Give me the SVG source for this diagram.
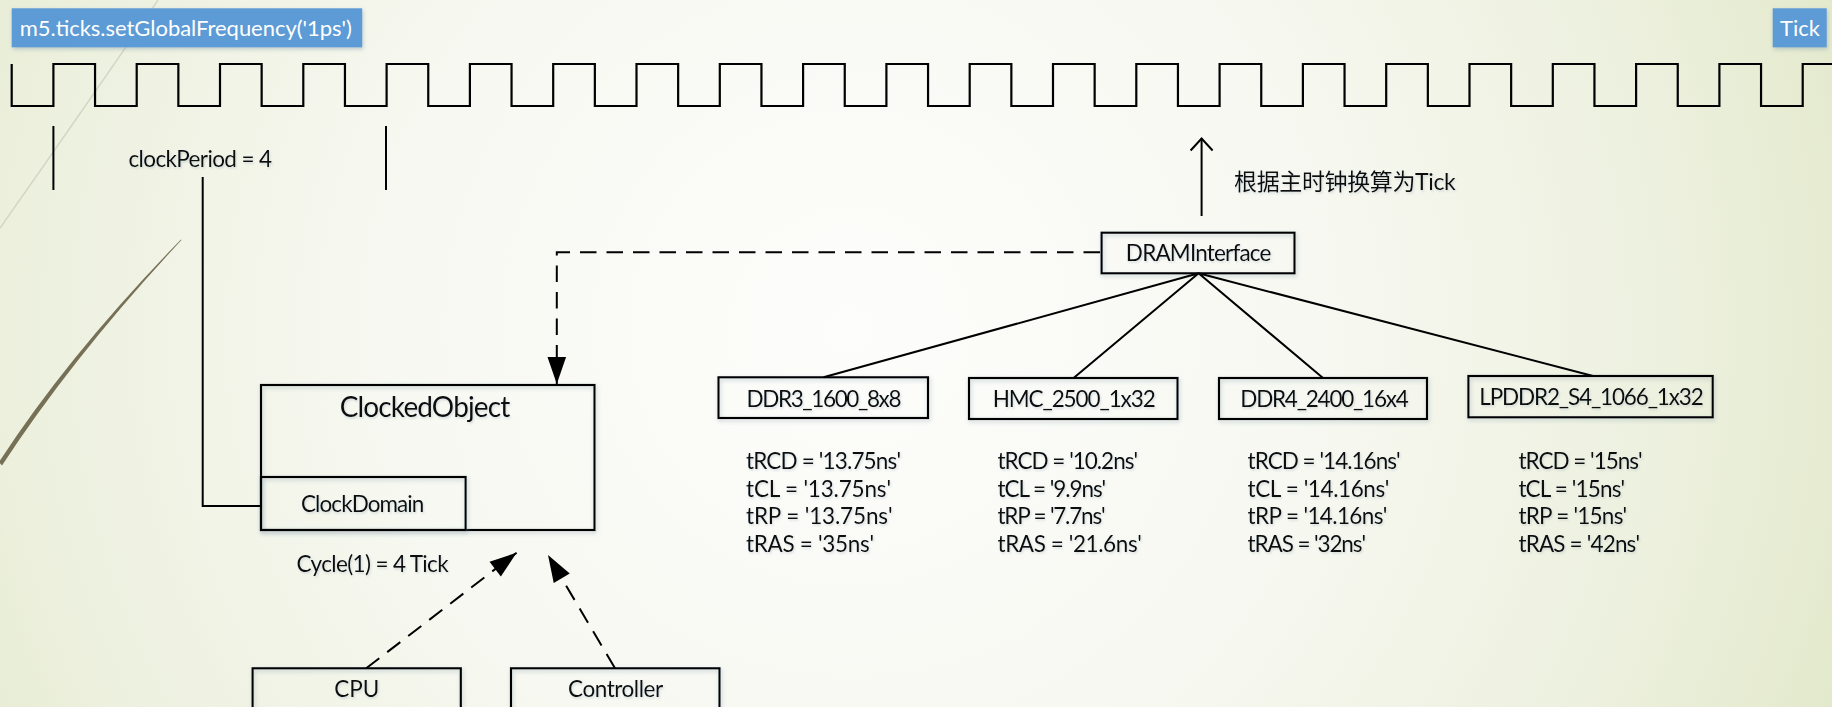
<svg xmlns="http://www.w3.org/2000/svg" width="1832" height="707" viewBox="0 0 1832 707">
  <defs>
    <radialGradient id="bg" cx="850" cy="330" r="1050" gradientUnits="userSpaceOnUse">
      <stop offset="0" stop-color="#fdfdfb"/>
      <stop offset="0.45" stop-color="#f7f8f1"/>
      <stop offset="0.8" stop-color="#ecf0dd"/>
      <stop offset="1" stop-color="#e3e9cc"/>
    </radialGradient>
    <filter id="shadow" x="-10%" y="-20%" width="120%" height="150%">
      <feDropShadow dx="1" dy="2" stdDeviation="2" flood-color="#7f97a8" flood-opacity="0.45"/>
    </filter>
    <filter id="tshadow" x="-5%" y="-20%" width="110%" height="150%">
      <feDropShadow dx="1" dy="1.5" stdDeviation="1.2" flood-color="#8aa0b0" flood-opacity="0.35"/>
    </filter>
    <marker id="filled" markerUnits="userSpaceOnUse" markerWidth="28" markerHeight="20" refX="27" refY="9.3" orient="auto" overflow="visible">
      <path d="M0,0 L27,9.3 L0,18.6 Z" fill="#000"/>
    </marker>
    <marker id="open" markerUnits="userSpaceOnUse" markerWidth="16" markerHeight="26" refX="12" refY="11" orient="auto" overflow="visible">
      <path d="M0,0 L12,11 L0,22" fill="none" stroke="#000" stroke-width="2"/>
    </marker>
  </defs>
  <style>
    .box { fill: none; stroke: #000; stroke-width: 2.2; filter: url(#shadow); }
    .label { fill: #5b9bd5; filter: url(#shadow); }
    .lt { font-family: Lato, "Noto Sans CJK SC", sans-serif; font-size: 22px; fill: #fff; }
    .t { font-family: Lato, "Noto Sans CJK SC", sans-serif; font-size: 22.5px; fill: #0a0a0a; filter: url(#tshadow); }
    .mid { text-anchor: middle; }
    .big { font-size: 28px; }
    .line { fill: none; stroke: #000; stroke-width: 2; }
    .dash { fill: none; stroke: #000; stroke-width: 2; stroke-dasharray: 16.5 10; }
    .wave { fill: none; stroke: #000; stroke-width: 2.2; stroke-linejoin: miter; }
  </style>

  <rect x="0" y="0" width="1832" height="707" fill="url(#bg)"/>
  <!-- background decoration -->
  <path d="M158,0 Q90,100 0,228" fill="none" stroke="#d4d6c6" stroke-width="1.5"/>
  <path d="M181,239.5 Q70,353 -1,462 L2,465.5 Q74,355.5 181.5,240 Z" fill="#767056"/>

  <g id="freq-label">
    <rect class="label" x="11.7" y="8.3" width="350.5" height="39"/>
    <text class="lt" x="19.8" y="36" textLength="332">m5.ticks.setGlobalFrequency('1ps')</text>
  </g>
  <g id="tick-label">
    <rect class="label" x="1772.7" y="8.3" width="54" height="39"/>
    <text class="lt" x="1800" y="36" text-anchor="middle">Tick</text>
  </g>

  <g id="waveform">
    <path class="wave" d="M11.7 64V106H53.4V64H95.05V106H136.7V64H178.35V106H220V64H261.65V106H303.3V64H344.95V106H386.6V64H428.25V106H469.9V64H511.55V106H553.2V64H594.85V106H636.5V64H678.15V106H719.8V64H761.45V106H803.1V64H844.75V106H886.4V64H928.05V106H969.7V64H1011.35V106H1053V64H1094.65V106H1136.3V64H1177.95V106H1219.6V64H1261.25V106H1302.9V64H1344.55V106H1386.2V64H1427.85V106H1469.5V64H1511.15V106H1552.8V64H1594.45V106H1636.1V64H1677.75V106H1719.4V64H1761.05V106H1802.7V64H1832"/>
    <path class="line" d="M53.4 126V190M386 126V190"/>
  </g>

  <g id="clock-period">
    <text class="t" x="128.5" y="167" textLength="143.5">clockPeriod = 4</text>
  </g>

  <g id="clockedobject">
    <rect class="box" x="261" y="385" width="333.5" height="145"/>
    <text class="t big mid" x="425" y="417" textLength="170.5">ClockedObject</text>
  </g>
  <g id="clockdomain">
    <rect class="box" x="261" y="477" width="204.6" height="53"/>
    <text class="t mid" x="362.7" y="512" textLength="123.4">ClockDomain</text>
  </g>
  <g id="cycle-note">
    <text class="t" x="296.6" y="572" textLength="152">Cycle(1) = 4 Tick</text>
  </g>
  <g id="cpu">
    <rect class="box" x="252.6" y="668.3" width="208.2" height="60"/>
    <text class="t mid" x="356.7" y="697">CPU</text>
  </g>
  <g id="controller">
    <rect class="box" x="511" y="668.3" width="208.5" height="60"/>
    <text class="t mid" x="615.6" y="697" textLength="95">Controller</text>
  </g>

  <g id="draminterface">
    <rect class="box" x="1101.6" y="232.7" width="192.9" height="40.6"/>
    <text class="t mid" x="1198.6" y="261" textLength="145.5">DRAMInterface</text>
  </g>
  <g id="tick-note">
    <text class="t" x="1234" y="190" style="font-size:23px" textLength="221.7">根据主时钟换算为Tick</text>
  </g>

  <g id="ddr3">
    <rect class="box" x="718.5" y="377.3" width="209.5" height="40.7"/>
    <text class="t mid" x="824" y="406.5" textLength="155">DDR3_1600_8x8</text>
    <text class="t" x="746" y="469" textLength="155">tRCD = '13.75ns'</text>
    <text class="t" x="746" y="496.5" textLength="145">tCL = '13.75ns'</text>
    <text class="t" x="746" y="524" textLength="146.5">tRP = '13.75ns'</text>
    <text class="t" x="746" y="551.5" textLength="128">tRAS = '35ns'</text>
  </g>
  <g id="hmc">
    <rect class="box" x="969" y="378" width="208.5" height="41"/>
    <text class="t mid" x="1074.2" y="406.5" textLength="163">HMC_2500_1x32</text>
    <text class="t" x="997.5" y="469" textLength="140.5">tRCD = '10.2ns'</text>
    <text class="t" x="997.5" y="496.5" textLength="108.7">tCL = '9.9ns'</text>
    <text class="t" x="997.5" y="524" textLength="108">tRP = '7.7ns'</text>
    <text class="t" x="997.5" y="551.5" textLength="144.3">tRAS = '21.6ns'</text>
  </g>
  <g id="ddr4">
    <rect class="box" x="1219" y="378" width="208" height="41"/>
    <text class="t mid" x="1324.5" y="406.5" textLength="168.5">DDR4_2400_16x4</text>
    <text class="t" x="1247.6" y="469" textLength="153">tRCD = '14.16ns'</text>
    <text class="t" x="1247.6" y="496.5" textLength="141.8">tCL = '14.16ns'</text>
    <text class="t" x="1247.6" y="524" textLength="139.8">tRP = '14.16ns'</text>
    <text class="t" x="1247.6" y="551.5" textLength="118.4">tRAS = '32ns'</text>
  </g>
  <g id="lpddr2">
    <rect class="box" x="1468.4" y="376" width="244.3" height="41.3"/>
    <text class="t mid" x="1591.5" y="405" textLength="224.5">LPDDR2_S4_1066_1x32</text>
    <text class="t" x="1518.4" y="469" textLength="124.2">tRCD = '15ns'</text>
    <text class="t" x="1518.4" y="496.5" textLength="106.8">tCL = '15ns'</text>
    <text class="t" x="1518.4" y="524" textLength="108.8">tRP = '15ns'</text>
    <text class="t" x="1518.4" y="551.5" textLength="121.7">tRAS = '42ns'</text>
  </g>

  <g id="connectors">
    <path class="line" d="M202.7 177V506H261"/>
    <path class="dash" d="M1100 252.3H556.8V384" marker-end="url(#filled)"/>
    <path class="line" d="M1201.6 216V138.5" marker-end="url(#open)"/>
    <path class="line" d="M1198.6 273.3L823.6 377.3M1198.6 273.3L1073.6 378M1198.6 273.3L1323 378M1198.6 273.3L1593 376"/>
    <path class="dash" d="M366.2 668.3L516.6 552.7" marker-end="url(#filled)"/>
    <path class="dash" d="M615 668.3L548 555" marker-end="url(#filled)"/>
  </g>
</svg>
